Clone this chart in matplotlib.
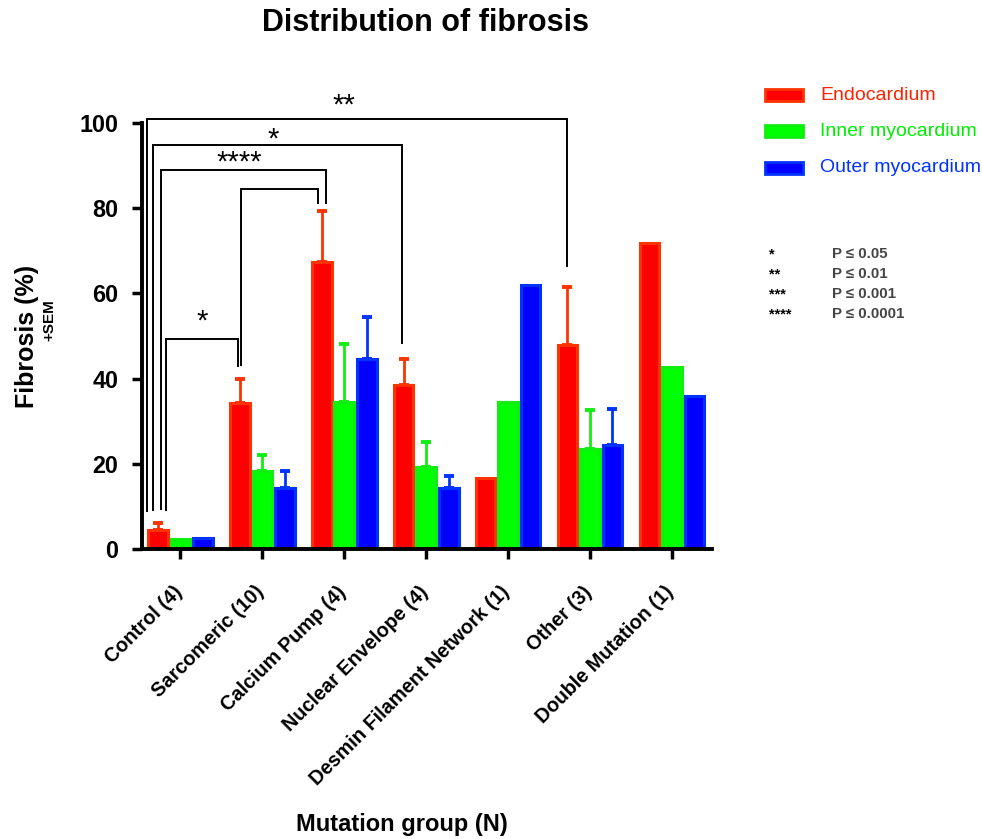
import numpy as np
import matplotlib.pyplot as plt
from matplotlib.patches import Rectangle
from matplotlib.transforms import ScaledTranslation

plt.rcParams['font.family'] = ['Liberation Sans', 'DejaVu Sans']

groups = ['Control (4)', 'Sarcomeric (10)', 'Calcium Pump (4)', 'Nuclear Envelope (4)',
          'Desmin Filament Network (1)', 'Other (3)', 'Double Mutation (1)']
series = ['Endocardium', 'Inner myocardium', 'Outer myocardium']
endo = [4.5, 34.3, 67.4, 38.5, 16.6, 47.8, 71.8]
endo_sem = [1.7, 5.7, 12.0, 6.0, 0, 13.8, 0]
inner = [2.3, 18.3, 34.6, 19.2, 34.6, 23.4, 42.7]
inner_sem = [0, 3.7, 13.5, 6.0, 0, 9.3, 0]
outer = [2.5, 14.3, 44.6, 14.3, 62.0, 24.4, 35.8]
outer_sem = [0, 4.0, 9.9, 2.9, 0, 8.5, 0]

fills = ['#ff0000', '#00ff00', '#0000ff']
edges = ['#ff3300', '#11ee11', '#0033ff']
text_cols = ['#ff2200', '#00ee00', '#0033ff']

# significance brackets: left x, left bottom, top, right x, right bottom, label, label x, label y
brackets = [
    (-0.406, 9.0, 100.9, 4.716, 66.4, '**', 1.99, 104.0),
    (-0.333, 9.2, 94.8, 2.707, 48.3, '*', 1.13, 96.0),
    (-0.244, 9.4, 89.0, 1.78, 81.2, '****', 0.72, 90.8),
    (0.74, 43.2, 84.5, 1.68, 81.3, '', 0, 0),
    (-0.171, 9.2, 49.2, 0.70, 43.0, '*', 0.26, 53.5),
]

fig = plt.figure(figsize=(9.82, 8.39), dpi=100)
ax = fig.add_axes([142 / 982, 1 - 549 / 839, 570 / 982, 426 / 839])

x = np.arange(len(groups))
w = 0.24
step = 0.275
for k, (vals, sem) in enumerate([(endo, endo_sem), (inner, inner_sem), (outer, outer_sem)]):
    pos = x + (k - 1) * step
    ax.bar(pos, vals, width=w, color=fills[k], edgecolor=edges[k], linewidth=2.2, zorder=2)
    sem = np.array(sem)
    m = sem > 0
    ax.errorbar(pos[m], np.array(vals)[m], yerr=[np.zeros(m.sum()), sem[m]], fmt='none',
                ecolor=edges[k], elinewidth=2, capsize=3.7, capthick=2.8, zorder=1)

ax.set_xlim(-0.47, 6.49)
ax.set_ylim(0, 100)
ax.set_yticks([0, 20, 40, 60, 80, 100])
ax.set_xticks(x)
ax.tick_params(axis='both', direction='out', length=7, width=2.5)
ax.tick_params(axis='y', pad=10)
ax.tick_params(axis='x', pad=17)
ax.set_xticklabels(groups, rotation=45, ha='right', va='top', rotation_mode='anchor',
                   fontsize=14.3, fontweight='bold')
for t in ax.get_xticklabels():
    t.set_transform(t.get_transform() + ScaledTranslation(-5.8 / 72, 0, fig.dpi_scale_trans))
for t in ax.get_yticklabels():
    t.set_fontsize(16.8)
    t.set_fontweight('bold')
for s in ['top', 'right']:
    ax.spines[s].set_visible(False)
for s in ['left', 'bottom']:
    ax.spines[s].set_linewidth(2.8)

for lx, lb, top, rx, rb, lab, tx, ty in brackets:
    ax.plot([lx, lx, rx, rx], [lb, top, top, rb], color='black', lw=1.4,
            clip_on=False, zorder=3, solid_joinstyle='miter')
    if lab:
        ax.text(tx, ty, lab, ha='center', va='center', fontsize=21, clip_on=False)

fig.text(425 / 982, 1 - 23 / 839, 'Distribution of fibrosis', ha='center', va='center',
         fontsize=22, fontweight='bold')
fig.text(27 / 982, 1 - 336 / 839, 'Fibrosis (%)', rotation=90, ha='center', va='center',
         fontsize=18, fontweight='bold')
fig.text(49 / 982, 1 - 320 / 839, '+SEM', rotation=90, ha='center', va='center',
         fontsize=11, fontweight='bold')
fig.text(402 / 982, 1 - 825 / 839, 'Mutation group (N)', ha='center', va='center',
         fontsize=17, fontweight='bold')

# legend
for k, (name, ly) in enumerate(zip(series, [95, 131, 168])):
    fig.patches.append(Rectangle((765 / 982, 1 - (ly + 6) / 839), 38 / 982, 12 / 839,
                                 transform=fig.transFigure, facecolor=fills[k],
                                 edgecolor=edges[k], linewidth=2))
    fig.text(820 / 982, 1 - ly / 839, name, ha='left', va='center', fontsize=14,
             color=text_cols[k])

stars = ['*', '**', '***', '****']
pvals = ['P ≤ 0.05', 'P ≤ 0.01', 'P ≤ 0.001', 'P ≤ 0.0001']
for s, p, ly in zip(stars, pvals, [254, 274, 294, 314]):
    fig.text(769 / 982, 1 - ly / 839, s, ha='left', va='center', fontsize=10.5,
             fontweight='bold', color='black')
    fig.text(832 / 982, 1 - ly / 839, p, ha='left', va='center', fontsize=10.8,
             fontweight='bold', color='#444444')

fig.savefig('out.png', dpi=100)
